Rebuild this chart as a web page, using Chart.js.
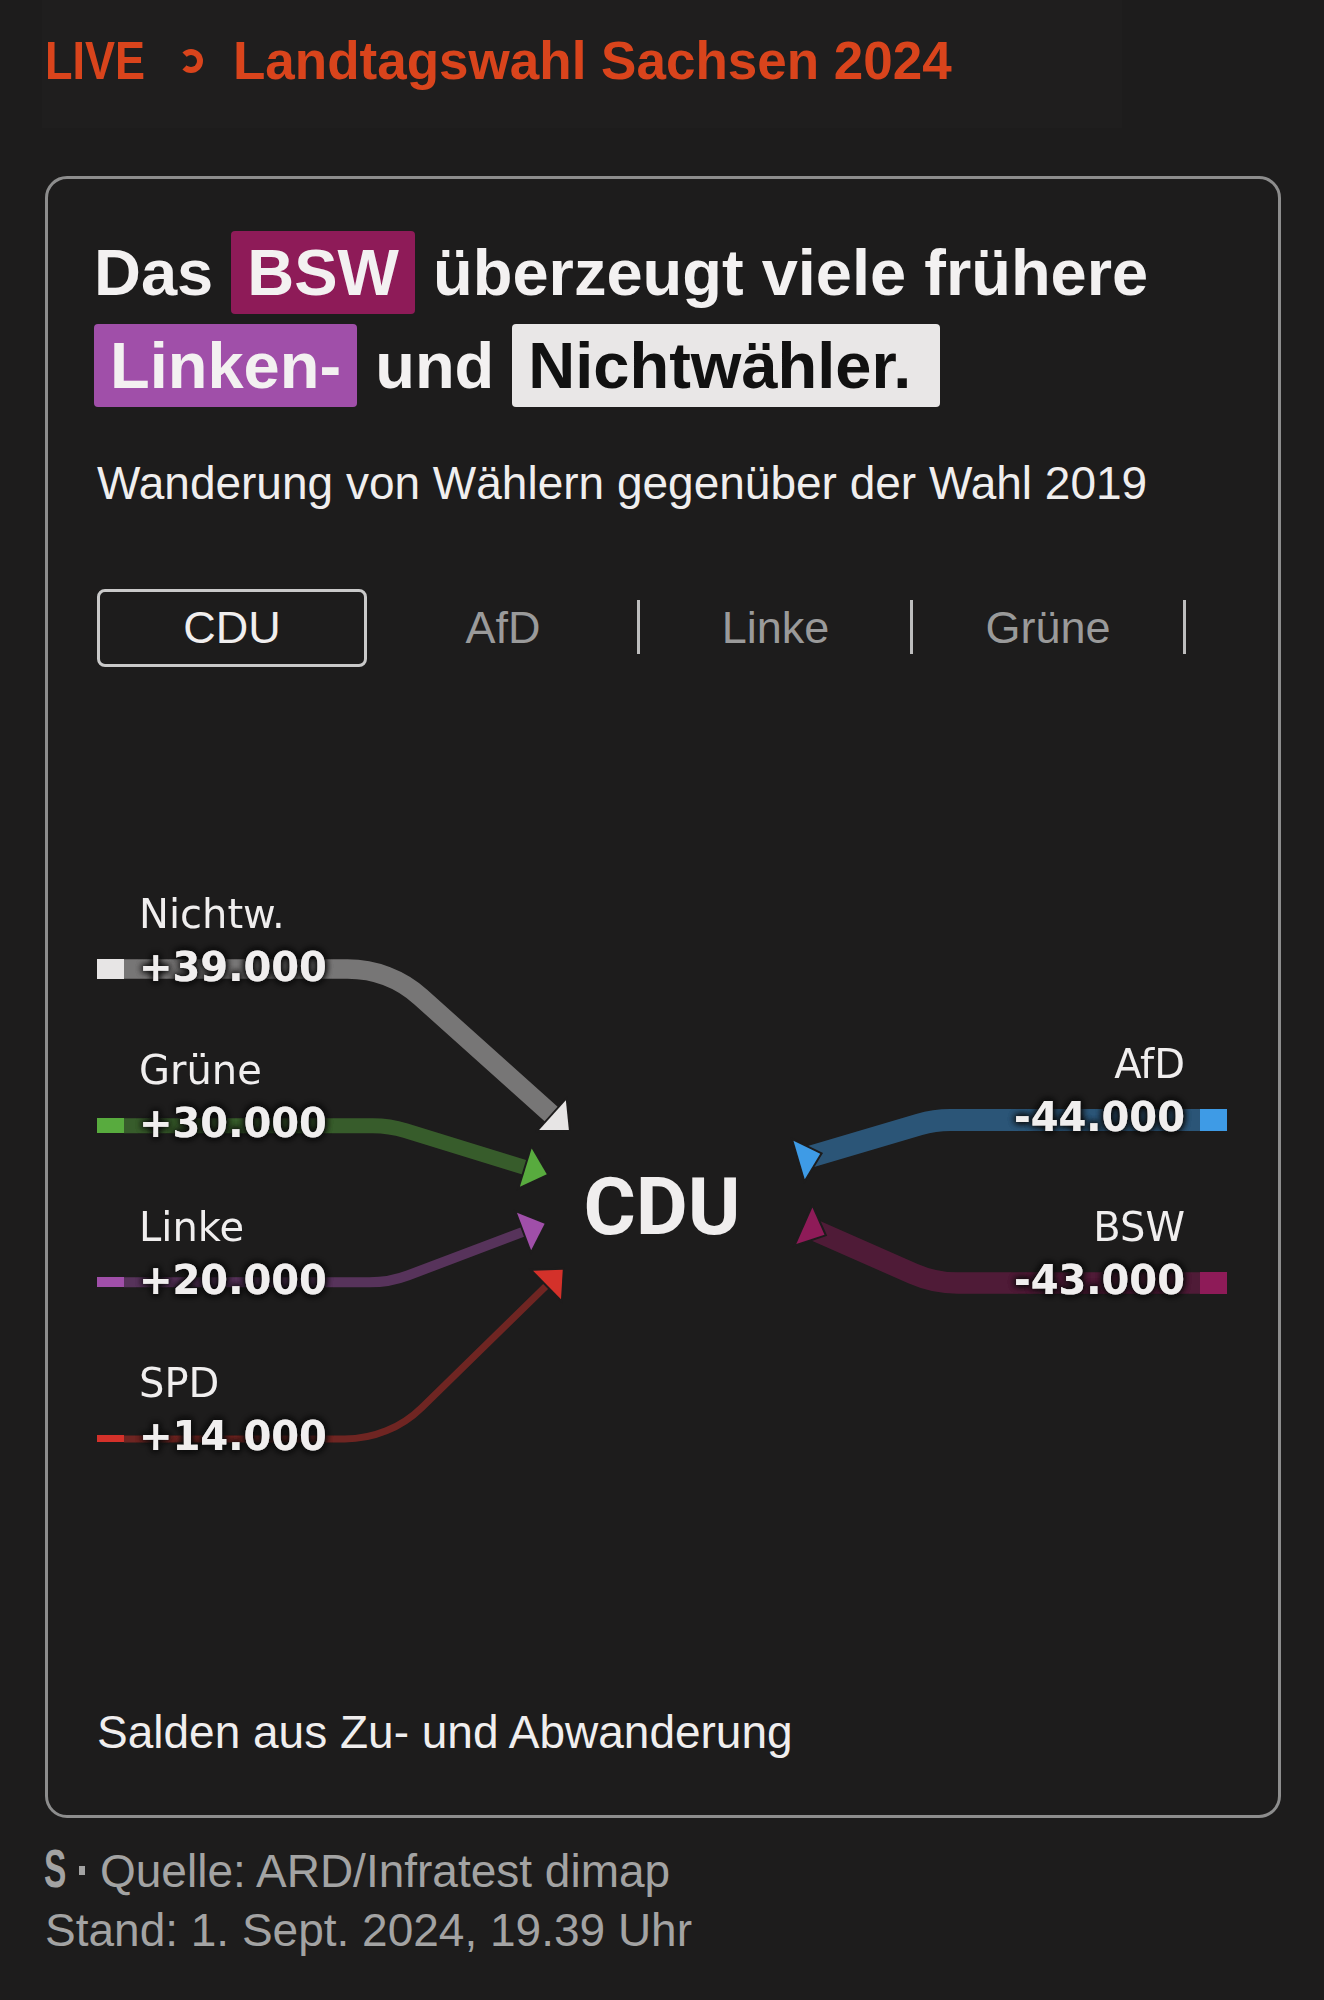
<!DOCTYPE html>
<html lang="de">
<head>
<meta charset="utf-8">
<title>Landtagswahl Sachsen 2024 – Wählerwanderung CDU</title>
<script src="https://cdn.jsdelivr.net/npm/chart.js@4.4.1/dist/chart.umd.min.js"></script>
<style>
  html, body { margin: 0; padding: 0; background: #1d1c1c; }
  body { width: 1324px; height: 2000px; position: relative; overflow: hidden;
         font-family: "Liberation Sans", Arial, sans-serif; color: #f0eeee; }
  .hero-bg { position: absolute; left: 42px; top: 0; width: 1080px; height: 128px; background: #1f1e1e; }
  .kicker { position: absolute; top: 30px; font: bold 53px/62px "Liberation Sans", sans-serif; color: #d9441c; white-space: nowrap; }
  .kicker.live { left: 45px; transform: scaleX(0.85); transform-origin: left center; }
  .kicker.ring { left: 179px; top: 49px; width: 24px; height: 24px; box-sizing: border-box;
                 border: 6px solid #d9441c; border-left-color: transparent; border-radius: 50%; }
  .kicker.topic { left: 233px; }
  .card { position: absolute; left: 45px; top: 176px; width: 1236px; height: 1642px;
          box-sizing: border-box; border: 3px solid #8d8d8d; border-radius: 22px; }
  .title { position: absolute; left: 94px; top: 226px; width: 1160px;
           font: bold 65px/93px "Liberation Sans", sans-serif; color: #f3f1f1; white-space: nowrap; }
  .hl { padding: 5px 16px; border-radius: 4px; }
  .hl.bsw { background: #8e1b58; color: #f3f1f1; }
  .hl.linke { background: #a04fa9; color: #f3f1f1; }
  .hl.nw { background: #e9e7e7; color: #111; padding-right: 29px; }
  .sub { position: absolute; left: 97px; font: 46px/56px "Liberation Sans", sans-serif; color: #f0eeee; white-space: nowrap; }
  .tab { position: absolute; top: 589px; height: 78px; width: 272px; text-align: center;
         font: 45px/78px "Liberation Sans", sans-serif; color: #9a9a9a; }
  .tab.active { left: 97px; width: 270px; box-sizing: border-box; border: 3px solid #c9c9c9;
                border-radius: 8px; line-height: 72px; color: #f0eeee; }
  .sep { position: absolute; top: 600px; width: 3px; height: 54px; background: #bdbdbd; }
  #flowChart { position: absolute; left: 60px; top: 840px; }
  .foot { position: absolute; font: 46px/56px "Liberation Sans", sans-serif; color: #a3a3a3; white-space: nowrap; }
  .logo { position: absolute; left: 44px; top: 1840px; font: bold 54px/56px "Liberation Sans", sans-serif;
          color: #a3a3a3; transform: scaleX(0.62); transform-origin: left center; }
  .dot { position: absolute; left: 79px; top: 1866px; width: 6px; height: 9px; background: #a3a3a3; }
</style>
</head>
<body>
<div class="hero-bg"></div>
<div class="kicker live">LIVE</div>
<div class="kicker ring"></div>
<div class="kicker topic">Landtagswahl Sachsen 2024</div>

<div class="card"></div>
<div class="title">Das <span class="hl bsw">BSW</span> überzeugt viele frühere<br><span class="hl linke">Linken-</span> und <span class="hl nw">Nichtwähler.</span></div>
<div class="sub" style="top:455px">Wanderung von Wählern gegenüber der Wahl 2019</div>
<div id="tabs"></div>

<canvas id="flowChart" width="1204" height="720"></canvas>

<div class="sub" style="top:1704px">Salden aus Zu- und Abwanderung</div>
<div class="logo">S</div>
<div class="dot"></div>
<div class="foot" style="left:100px; top:1843px">Quelle: ARD/Infratest dimap</div>
<div class="foot" style="left:45px; top:1902px">Stand: 1. Sept. 2024, 19.39 Uhr</div>

<script>
// data
const centerParty = 'CDU';
const inflowParties = ['Nichtw.', 'Grüne', 'Linke', 'SPD'];
const inflowValues = [39000, 30000, 20000, 14000];
const outflowParties = ['AfD', 'BSW'];
const outflowValues = [-44000, -43000];
const tabLabels = ['CDU', 'AfD', 'Linke', 'Grüne'];

// styles
const partyColors = {
  'Nichtw.': '#e7e5e5',
  'Grüne': '#58ab3e',
  'Linke': '#a04fa9',
  'SPD': '#d4312a',
  'AfD': '#3e9be6',
  'BSW': '#8e1b58'
};
const BG = '#1d1c1c';
const TEXT = '#f0eeee';
const PX_PER_VOTER = 1 / 2000;   // line thickness per voter
const STUB_W = 27;
const BEND = 0.253;              // where the flat part bends, share of x range
const CORNER_R = 110;
const ARROW_LEN = 22, ARROW_HALF = 20;
const LEFT_FAN = { r: 119, start: 38.5, step: 24 };
const RIGHT_FAN = { r: 144, start: 17.8, step: 26.5 };

function formatDE(v) {
  const s = String(Math.abs(v)).replace(/\B(?=(\d{3})+(?!\d))/g, '.');
  return (v < 0 ? '-' : '+') + s;
}

function withAlpha(hex, a) {
  const n = parseInt(hex.slice(1), 16);
  return `rgba(${(n >> 16) & 255}, ${(n >> 8) & 255}, ${n & 255}, ${a})`;
}

function stubImage(color, value) {
  const c = document.createElement('canvas');
  c.width = STUB_W;
  c.height = Math.round(Math.abs(value) * PX_PER_VOTER);
  const g = c.getContext('2d');
  g.fillStyle = color;
  g.fillRect(0, 0, c.width, c.height);
  return c;
}

// tabs
const tabs = document.getElementById('tabs');
tabLabels.forEach((t, i) => {
  const d = document.createElement('div');
  d.className = 'tab' + (i === 0 ? ' active' : '');
  if (i > 0) d.style.left = (367 + (i - 1) * 272.5) + 'px';
  d.textContent = t;
  tabs.appendChild(d);
  if (i > 0) {
    const s = document.createElement('div');
    s.className = 'sep';
    s.style.left = (637 + (i - 1) * 273) + 'px';
    tabs.appendChild(s);
  }
});

function drawArrow(ctx, tip, ux, uy, color) {
  const bx = tip.x - ux * ARROW_LEN, by = tip.y - uy * ARROW_LEN;
  const px = -uy, py = ux;
  ctx.beginPath();
  ctx.moveTo(tip.x, tip.y);
  ctx.lineTo(bx + px * ARROW_HALF, by + py * ARROW_HALF);
  ctx.lineTo(bx - px * ARROW_HALF, by - py * ARROW_HALF);
  ctx.closePath();
  ctx.lineJoin = 'miter';
  ctx.lineWidth = 4;
  ctx.strokeStyle = BG;
  ctx.stroke();
  ctx.fillStyle = color;
  ctx.fill();
}

function flowGeometry(chart) {
  const { x, y, yRight } = chart.scales;
  const cx = x.getPixelForValue(0.5), cy = y.getPixelForValue(1.5);
  const x0 = x.getPixelForValue(0), x1 = x.getPixelForValue(1);
  const left = inflowParties.map((p, i) => {
    const rowY = y.getPixelForValue(i);
    const a = (LEFT_FAN.start - i * LEFT_FAN.step) * Math.PI / 180;
    const tip = { x: cx - LEFT_FAN.r * Math.cos(a), y: cy - LEFT_FAN.r * Math.sin(a) };
    const bend = { x: x.getPixelForValue(BEND), y: rowY };
    const dx = tip.x - bend.x, dy = tip.y - bend.y, len = Math.hypot(dx, dy);
    return { party: p, value: inflowValues[i], rowY, tip, bend, ux: dx / len, uy: dy / len, start: x0 + STUB_W / 2 };
  });
  const right = outflowParties.map((p, j) => {
    const rowY = yRight.getPixelForValue(j);
    const a = (RIGHT_FAN.start - j * RIGHT_FAN.step) * Math.PI / 180;
    const base = { x: cx + RIGHT_FAN.r * Math.cos(a), y: cy - RIGHT_FAN.r * Math.sin(a) };
    const bend = { x: x.getPixelForValue(1 - BEND), y: rowY };
    const dx = bend.x - base.x, dy = bend.y - base.y, len = Math.hypot(dx, dy);
    const ux = dx / len, uy = dy / len;
    const tip = { x: base.x + ux * ARROW_LEN, y: base.y + uy * ARROW_LEN };
    return { party: p, value: outflowValues[j], rowY, base, tip, bend, ux, uy, end: x1 - STUB_W / 2 };
  });
  return { cx, cy, x0, x1, left, right };
}

const flowPlugin = {
  id: 'flows',
  beforeDatasetsDraw(chart) {
    const ctx = chart.ctx;
    const g = flowGeometry(chart);
    ctx.save();
    ctx.lineCap = 'butt';
    g.left.forEach(f => {
      const bx = f.tip.x - f.ux * ARROW_LEN, by = f.tip.y - f.uy * ARROW_LEN;
      ctx.beginPath();
      ctx.moveTo(f.start, f.rowY);
      ctx.arcTo(f.bend.x, f.bend.y, bx, by, CORNER_R);
      ctx.lineTo(bx + f.ux * 3, by + f.uy * 3);
      ctx.lineWidth = Math.abs(f.value) * PX_PER_VOTER;
      ctx.strokeStyle = withAlpha(partyColors[f.party], 0.45);
      ctx.stroke();
    });
    g.right.forEach(f => {
      ctx.beginPath();
      ctx.moveTo(f.base.x, f.base.y);
      ctx.arcTo(f.bend.x, f.bend.y, f.end, f.rowY, CORNER_R);
      ctx.lineTo(f.end, f.rowY);
      ctx.lineWidth = Math.abs(f.value) * PX_PER_VOTER;
      ctx.strokeStyle = withAlpha(partyColors[f.party], 0.45);
      ctx.stroke();
    });
    ctx.restore();
  },
  afterDatasetsDraw(chart) {
    const ctx = chart.ctx;
    const g = flowGeometry(chart);
    ctx.save();
    g.left.forEach(f => drawArrow(ctx, f.tip, f.ux, f.uy, partyColors[f.party]));
    g.right.forEach(f => drawArrow(ctx, f.tip, f.ux, f.uy, partyColors[f.party]));

    const label = (txt, xPos, yPos, align, bold) => {
      ctx.textAlign = align;
      ctx.textBaseline = 'alphabetic';
      ctx.font = (bold ? 'bold ' : '') + '40px "DejaVu Sans", sans-serif';
      ctx.fillStyle = TEXT;
      if (bold) {
        ctx.shadowColor = 'rgba(12, 12, 12, 0.95)';
        ctx.shadowBlur = 7;
        ctx.fillText(txt, xPos, yPos);
        ctx.fillText(txt, xPos, yPos);
      }
      ctx.fillText(txt, xPos, yPos);
      ctx.shadowBlur = 0;
      ctx.shadowColor = 'transparent';
    };
    const offset = STUB_W / 2 + 15;
    g.left.forEach(f => {
      label(f.party, g.x0 + offset, f.rowY - 41.5, 'left', false);
      label(formatDE(f.value), g.x0 + offset, f.rowY + 11.5, 'left', true);
    });
    g.right.forEach(f => {
      label(f.party, g.x1 - offset, f.rowY - 42.5, 'right', false);
      label(formatDE(f.value), g.x1 - offset, f.rowY + 10.5, 'right', true);
    });

    ctx.font = 'bold 80px Roboto, "Liberation Sans", sans-serif';
    ctx.textAlign = 'center';
    ctx.fillStyle = TEXT;
    ctx.fillText(centerParty, g.cx, g.cy + 30);
    ctx.restore();
  }
};

const ctx = document.getElementById('flowChart').getContext('2d');
new Chart(ctx, {
  type: 'scatter',
  data: {
    datasets: [{
      label: 'Zuwanderung',
      yAxisID: 'y',
      clip: false,
      data: inflowParties.map((p, i) => ({ x: 0, y: i })),
      pointStyle: inflowParties.map((p, i) => stubImage(partyColors[p], inflowValues[i])),
      pointRadius: 14
    }, {
      label: 'Abwanderung',
      yAxisID: 'yRight',
      clip: false,
      data: outflowParties.map((p, j) => ({ x: 1, y: j })),
      pointStyle: outflowParties.map((p, j) => stubImage(partyColors[p], outflowValues[j])),
      pointRadius: 14
    }]
  },
  options: {
    responsive: false,
    animation: false,
    events: [],
    layout: { padding: { left: 50.5, right: 50.5, top: 50.7, bottom: 42.7 } },
    scales: {
      x: { type: 'linear', min: 0, max: 1, display: false },
      y: { type: 'linear', reverse: true, min: -0.5, max: 3.5, display: false },
      yRight: { type: 'linear', reverse: true, min: -1.407, max: 2.437, display: false }
    },
    plugins: {
      legend: { display: false },
      tooltip: { enabled: false }
    }
  },
  plugins: [flowPlugin]
});
</script>
</body>
</html>
